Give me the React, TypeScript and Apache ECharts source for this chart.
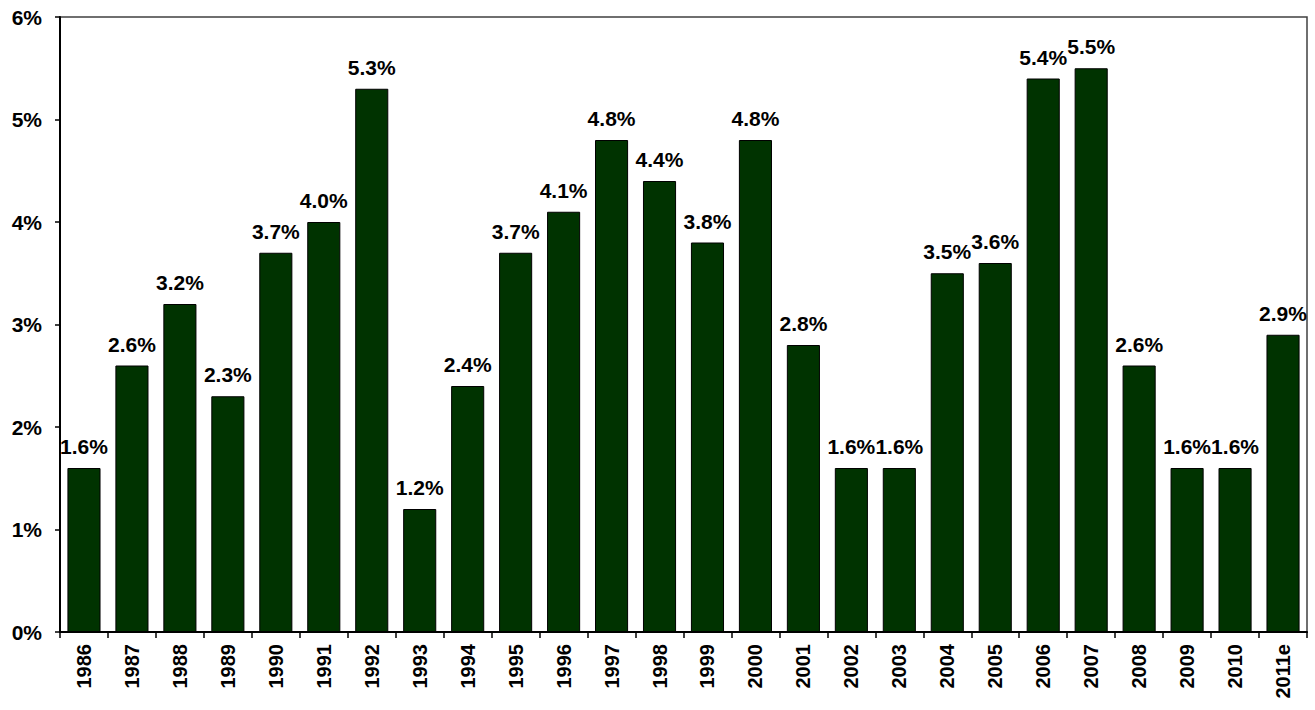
import React, { useEffect, useRef } from "react";
import * as echarts from "echarts";

const years = ["1986","1987","1988","1989","1990","1991","1992","1993","1994","1995","1996","1997","1998","1999","2000","2001","2002","2003","2004","2005","2006","2007","2008","2009","2010","2011e"];
const values = [1.6,2.6,3.2,2.3,3.7,4.0,5.3,1.2,2.4,3.7,4.1,4.8,4.4,3.8,4.8,2.8,1.6,1.6,3.5,3.6,5.4,5.5,2.6,1.6,1.6,2.9];
const yTicks = [0, 1, 2, 3, 4, 5, 6];

export default function App() {
  const ref = useRef<HTMLDivElement>(null);
  useEffect(() => {
    const chart = echarts.init(ref.current!, null, { renderer: "svg" });
    const font = "Arial, 'Liberation Sans', sans-serif";
    chart.setOption({
      animation: false,
      grid: { left: 60, right: 8, top: 17, bottom: 78, show: true, borderColor: "#404040", borderWidth: 1.5 },
      xAxis: {
        type: "category",
        data: years,
        axisLine: { lineStyle: { color: "#000", width: 2 } },
        axisTick: { show: true, length: 6, alignWithLabel: false, lineStyle: { color: "#000", width: 1.5 } },
        axisLabel: { rotate: 90, color: "#000", fontWeight: "bold", fontSize: 20, fontFamily: font, margin: 12, interval: 0 },
      },
      yAxis: {
        type: "value",
        min: yTicks[0],
        max: yTicks[yTicks.length - 1],
        interval: 1,
        splitLine: { show: false },
        axisLine: { show: true, lineStyle: { color: "#000", width: 2 } },
        axisTick: { show: true, length: 5, lineStyle: { color: "#000", width: 1.5 } },
        axisLabel: { color: "#000", fontWeight: "bold", fontSize: 21, fontFamily: font, margin: 18, formatter: (v: number) => v + "%" },
      },
      series: [
        {
          type: "bar",
          data: values,
          barCategoryGap: "31%",
          itemStyle: { color: "#003300", borderColor: "#000", borderWidth: 1 },
          label: {
            show: true,
            position: "top",
            distance: 11,
            color: "#000",
            fontWeight: "bold",
            fontSize: 21,
            fontFamily: font,
            formatter: (p: any) => p.value.toFixed(1) + "%",
          },
        },
      ],
    });
    return () => chart.dispose();
  }, []);
  return <div ref={ref} style={{ width: 1315, height: 710, position: "absolute", left: 0, top: 0 }} />;
}
